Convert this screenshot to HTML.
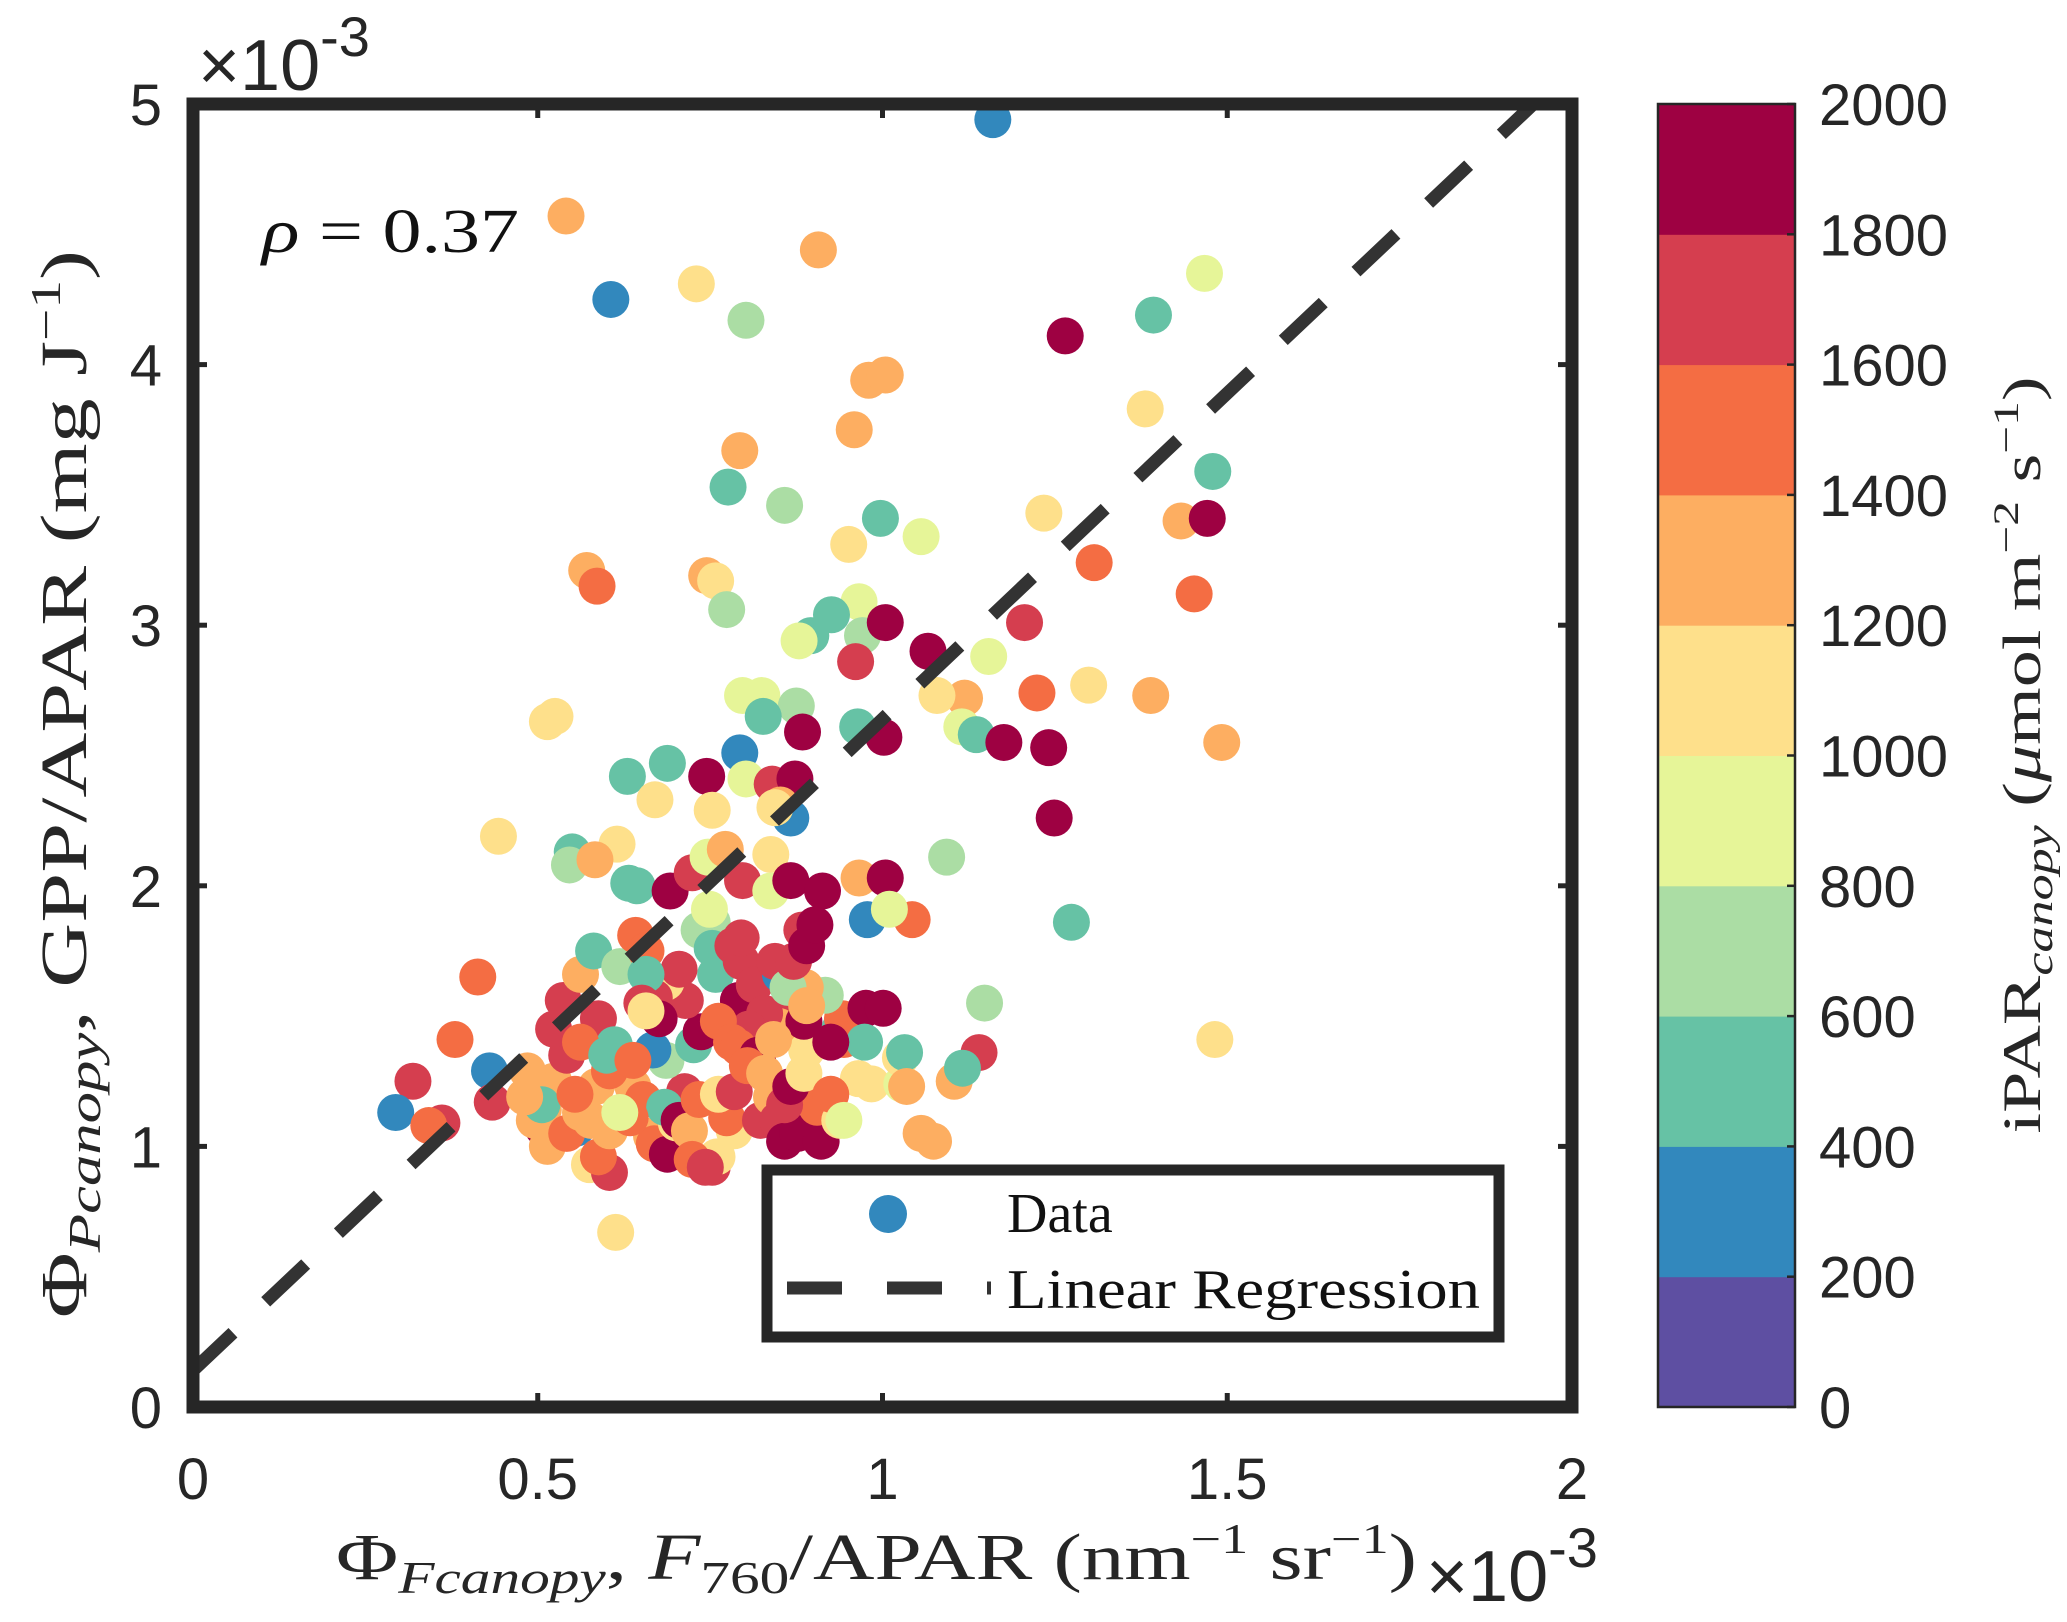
<!DOCTYPE html>
<html><head><meta charset="utf-8"><style>
html,body{margin:0;padding:0;background:#fff;}
svg{display:block;}
</style></head><body>
<svg id="chart" width="2067" height="1622" viewBox="0 0 2067 1622" xmlns="http://www.w3.org/2000/svg">
<rect x="0" y="0" width="2067" height="1622" fill="#fff"/>
<g id="points"></g>
<g id="regline"></g>
<g id="axes"></g>
<g id="cbar"></g>

<text x="262" y="252" font-family="Liberation Serif, serif" font-size="62" fill="#111" textLength="257" lengthAdjust="spacingAndGlyphs"><tspan font-style="italic">ρ</tspan> = 0.37</text>

<text x="198" y="90" font-family="Liberation Sans, sans-serif" font-size="72" fill="#262626">×10<tspan font-size="56" dy="-34">-3</tspan></text>
<text x="1426" y="1601" font-family="Liberation Sans, sans-serif" font-size="72" fill="#262626">×10<tspan font-size="56" dy="-34">-3</tspan></text>

<text x="336" y="1579" font-family="Liberation Serif, serif" font-size="66" fill="#262626" textLength="1081" lengthAdjust="spacingAndGlyphs">Φ<tspan font-style="italic" font-size="46" dy="14">Fcanopy</tspan><tspan dy="-14">, </tspan><tspan font-style="italic">F</tspan><tspan font-size="46" dy="14">760</tspan><tspan dy="-14">/APAR (nm</tspan><tspan font-size="42" dy="-26">−1</tspan><tspan dy="26"> sr</tspan><tspan font-size="42" dy="-26">−1</tspan><tspan dy="26">)</tspan></text>

<text transform="translate(86,784) rotate(-90)" text-anchor="middle" font-family="Liberation Serif, serif" font-size="66" fill="#262626" textLength="1068" lengthAdjust="spacingAndGlyphs">Φ<tspan font-style="italic" font-size="46" dy="14">Pcanopy</tspan><tspan dy="-14">, GPP/APAR (mg J</tspan><tspan font-size="42" dy="-26">−1</tspan><tspan dy="26">)</tspan></text>

<text transform="translate(2040,755) rotate(-90)" text-anchor="middle" font-family="Liberation Serif, serif" font-size="54" fill="#262626" textLength="757" lengthAdjust="spacingAndGlyphs">iPAR<tspan font-style="italic" font-size="38" dy="12">canopy</tspan><tspan dy="-12"> (</tspan><tspan font-style="italic">μ</tspan>mol m<tspan font-size="36" dy="-22">−2</tspan><tspan dy="22"> s</tspan><tspan font-size="36" dy="-22">−1</tspan><tspan dy="22">)</tspan></text>

<g>
<rect x="767" y="1170" width="732" height="167" fill="#fff" stroke="#262626" stroke-width="11"/>
<circle cx="888" cy="1214" r="19" fill="#3288bd"/>
<line x1="787" y1="1288" x2="991" y2="1288" stroke="#333" stroke-width="13" stroke-dasharray="55,45"/>
<text x="1007" y="1232" font-family="Liberation Serif, serif" font-size="56" fill="#111">Data</text>
<text x="1007" y="1308" font-family="Liberation Serif, serif" font-size="56" fill="#111" textLength="473" lengthAdjust="spacingAndGlyphs">Linear Regression</text>
</g>
</svg>
<script>
const NS='http://www.w3.org/2000/svg';
// data (x in 1e-3 nm^-1 sr^-1, y in 1e-3 mg/J, c = iPAR)
const xVals=[1.160,0.541,0.907,0.606,0.730,0.802,1.265,1.393,1.467,0.980,1.004,0.959,0.793,0.776,0.858,1.381,1.479,0.997,1.056,0.951,1.234,1.433,1.471,1.307,1.452,0.571,0.586,0.745,0.758,0.774,0.966,0.926,0.896,0.971,0.961,1.004,1.066,1.154,1.206,1.299,1.389,1.492,1.224,1.119,1.079,1.115,1.136,1.176,1.241,1.249,0.879,0.797,0.825,0.875,0.827,0.884,0.793,0.964,1.002,0.514,0.525,0.443,0.630,0.688,0.670,0.745,0.753,0.802,0.840,0.873,0.852,0.867,0.844,0.838,0.615,0.550,0.546,0.583,0.632,0.644,0.692,0.724,0.747,0.772,0.797,0.838,0.867,0.913,0.966,1.004,0.978,1.043,1.010,1.093,1.274,1.148,1.140,1.482,0.413,0.380,0.319,0.294,0.361,0.342,0.430,0.434,0.508,0.556,
0.537,0.562,0.581,0.619,0.642,0.657,0.588,0.611,0.575,0.604,0.588,0.613,0.665,0.669,0.688,0.701,0.713,0.686,0.667,0.726,0.753,0.760,0.785,0.774,0.823,0.839,0.848,0.858,0.877,0.911,0.905,0.938,0.965,0.984,1.028,1.026,1.032,1.035,1.056,1.074,1.104,1.116,0.890,0.938,0.942,0.917,0.888,0.867,0.850,0.734,0.753,0.749,0.753,0.758,0.783,0.795,0.795,0.791,0.814,0.829,0.806,0.737,0.762,0.714,0.686,0.705,0.669,0.657,0.651,0.676,0.781,0.791,0.819,0.852,0.844,0.863,0.871,0.883,0.890,0.902,0.886,0.944,0.976,1.001,0.974,0.925,0.638,0.653,0.684,0.705,0.720,0.734,0.762,0.785,0.804,0.829,0.858,0.867,0.886,0.925,0.944,0.724,0.743,0.523,0.508,0.495,0.514,0.542,0.577,0.604,0.634,0.585,0.604,0.619,0.542,0.523,0.562,0.600,0.638,0.506,0.562,0.554,0.481,0.485,0.657,0.842,0.890];
const yVals=[4.94,4.57,4.44,4.25,4.31,4.17,4.11,4.19,4.35,3.94,3.96,3.75,3.67,3.53,3.46,3.83,3.59,3.41,3.34,3.31,3.43,3.40,3.41,3.24,3.12,3.21,3.15,3.19,3.17,3.06,3.09,3.04,2.96,2.96,2.86,3.01,2.90,2.88,3.01,2.77,2.73,2.55,2.74,2.72,2.73,2.61,2.58,2.55,2.53,2.26,2.94,2.73,2.73,2.69,2.65,2.59,2.51,2.61,2.57,2.63,2.65,2.19,2.42,2.47,2.33,2.42,2.29,2.41,2.39,2.41,2.31,2.26,2.30,2.12,2.16,2.13,2.08,2.10,2.01,2.00,1.98,2.05,2.11,2.14,2.02,1.98,2.02,1.98,2.03,2.03,1.87,1.87,1.91,2.11,1.86,1.55,1.36,1.41,1.65,1.41,1.25,1.13,1.09,1.08,1.29,1.17,1.07,1.07,
1.56,1.66,1.75,1.69,1.81,1.75,1.49,1.39,0.93,0.90,0.96,0.67,1.04,1.01,0.97,1.09,1.21,1.33,1.37,1.39,0.92,0.96,1.06,1.11,1.10,1.19,1.10,1.02,1.05,1.02,1.15,1.10,1.26,1.24,1.24,1.34,1.36,1.23,1.05,1.02,1.25,1.30,1.37,1.45,1.49,1.58,1.61,1.52,1.46,1.83,1.86,1.91,1.76,1.66,1.77,1.71,1.80,1.56,1.62,1.51,1.45,1.44,1.48,1.56,1.63,1.68,1.57,1.66,1.55,1.49,1.40,1.38,1.35,1.66,1.71,1.61,1.71,1.83,1.77,1.85,1.48,1.41,1.53,1.53,1.40,1.40,1.23,1.18,1.15,1.10,1.06,1.18,1.20,1.21,1.31,1.28,1.16,1.23,1.28,1.20,1.10,0.95,0.92,1.25,1.14,1.10,1.00,1.05,1.10,1.06,1.11,1.23,1.29,1.13,1.35,1.45,1.40,1.35,1.33,1.16,1.13,1.20,1.19,1.29,1.52,1.41,1.54];
const cVals=[300,1300,1300,300,1100,700,1900,500,900,1300,1300,1300,1300,500,700,1100,500,500,900,1100,1100,1300,1900,1500,1500,1300,1500,1300,1100,700,900,500,500,700,1700,1900,1900,900,1700,1100,1300,1300,1500,1300,1100,900,500,1900,1900,1900,900,900,900,700,500,1900,300,500,1900,1100,1100,1100,500,500,1100,1900,1100,900,1700,1900,1300,300,1100,1100,1100,500,700,1300,500,500,1900,1700,900,1300,1700,900,1900,1900,1300,1900,300,1500,900,700,500,700,1700,1100,1500,1500,1700,300,1700,1500,300,1700,1900,300,
1700,1300,500,700,1500,1500,1700,500,1100,1700,1500,1100,1300,1500,1900,1100,1700,700,300,500,1700,1100,1100,1500,1700,1300,1700,1900,1900,1900,1500,1100,1100,1100,900,1100,500,1300,1300,1300,1300,500,1100,500,1500,700,1300,1700,1300,700,700,900,500,500,1700,1700,1700,1900,1700,1700,1700,1900,1500,1700,1100,1700,1700,500,1700,1900,1500,1500,1900,300,1700,700,1700,1700,1900,1900,1900,1500,1900,1900,500,1900,1300,1500,500,1900,1300,1500,1100,1700,1500,1300,1700,1900,1100,1500,900,1500,1700,1300,1300,1300,1300,1500,1300,1300,1500,1300,1500,900,1700,1700,1500,500,1500,500,1300,1500,1300,1300,1100,1300,1300];
const xTicks=[0,0.5,1,1.5,2];
const xTickLabels=['0','0.5','1','1.5','2'];
const yTicks=[0,1,2,3,4,5];
const yTickLabels=['0','1','2','3','4','5'];
const cTicks=[0,200,400,600,800,1000,1200,1400,1600,1800,2000];
const cBinColors=['#5e4fa2','#3288bd','#66c2a5','#abdda4','#e6f598','#fee08b','#fdae61','#f46d43','#d53e4f','#9e0142'];
const regIntercept=0.14, regSlope=2.5;

const L=193,R=1572,T=104,B=1407;
const X=v=>L+v/2*(R-L);
const Y=v=>B-v/5*(B-T);
const CB0=1658,CB1=1795;
const CY=v=>B-v/2000*(B-T);
function el(tag,attrs,parent){const e=document.createElementNS(NS,tag);for(const k in attrs)e.setAttribute(k,attrs[k]);parent.appendChild(e);return e;}
const colorFor=c=>cBinColors[Math.min(9,Math.floor(c/200))];

const gp=document.getElementById('points');
for(let i=0;i<xVals.length;i++){
  const c=el('circle',{cx:X(xVals[i]),cy:Y(yVals[i]),r:18.5,fill:colorFor(cVals[i])},gp);
  
  
}
const gr=document.getElementById('regline');
const xEnd=(5-regIntercept)/regSlope;
const ln=el('line',{x1:X(0),y1:Y(regIntercept),x2:X(xEnd),y2:Y(5),stroke:'#333','stroke-width':13,'stroke-dasharray':'55,45'},gr);



const ga=document.getElementById('axes');
xTicks.forEach((t,i)=>{
  const a=el('line',{x1:X(t),y1:B,x2:X(t),y2:B-14,stroke:'#262626','stroke-width':5},ga);
  
  
  const b=el('line',{x1:X(t),y1:T,x2:X(t),y2:T+14,stroke:'#262626','stroke-width':5},ga);
  
  
  const tx=el('text',{x:X(t),y:1499,'text-anchor':'middle','font-family':'Liberation Sans, sans-serif','font-size':58,fill:'#262626'},ga);
  tx.textContent=xTickLabels[i];
  
  
});
yTicks.forEach((t,i)=>{
  const a=el('line',{x1:L,y1:Y(t),x2:L+14,y2:Y(t),stroke:'#262626','stroke-width':5},ga);
  
  
  const b=el('line',{x1:R,y1:Y(t),x2:R-14,y2:Y(t),stroke:'#262626','stroke-width':5},ga);
  
  
  const tx=el('text',{x:162,y:Y(t)+21,'text-anchor':'end','font-family':'Liberation Sans, sans-serif','font-size':58,fill:'#262626'},ga);
  tx.textContent=yTickLabels[i];
  
  
});
const box=el('rect',{x:L,y:T,width:R-L,height:B-T,fill:'none',stroke:'#262626','stroke-width':13},ga);



const gc=document.getElementById('cbar');
for(let i=0;i<cBinColors.length;i++){
  const r=el('rect',{x:CB0,y:CY(cTicks[i+1]),width:CB1-CB0,height:CY(cTicks[i])-CY(cTicks[i+1])+0.5,fill:cBinColors[i]},gc);
  
  
}
const cf=el('rect',{x:CB0,y:T,width:CB1-CB0,height:B-T,fill:'none',stroke:'#262626','stroke-width':2.5},gc);


cTicks.forEach(t=>{
  const tk=el('line',{x1:CB1,y1:CY(t),x2:CB1-8,y2:CY(t),stroke:'#262626','stroke-width':2.5},gc);
  
  
  const tx=el('text',{x:1819,y:CY(t)+21,'font-family':'Liberation Sans, sans-serif','font-size':58,fill:'#262626'},gc);
  tx.textContent=String(t);
  
  
});
</script>
</body></html>
